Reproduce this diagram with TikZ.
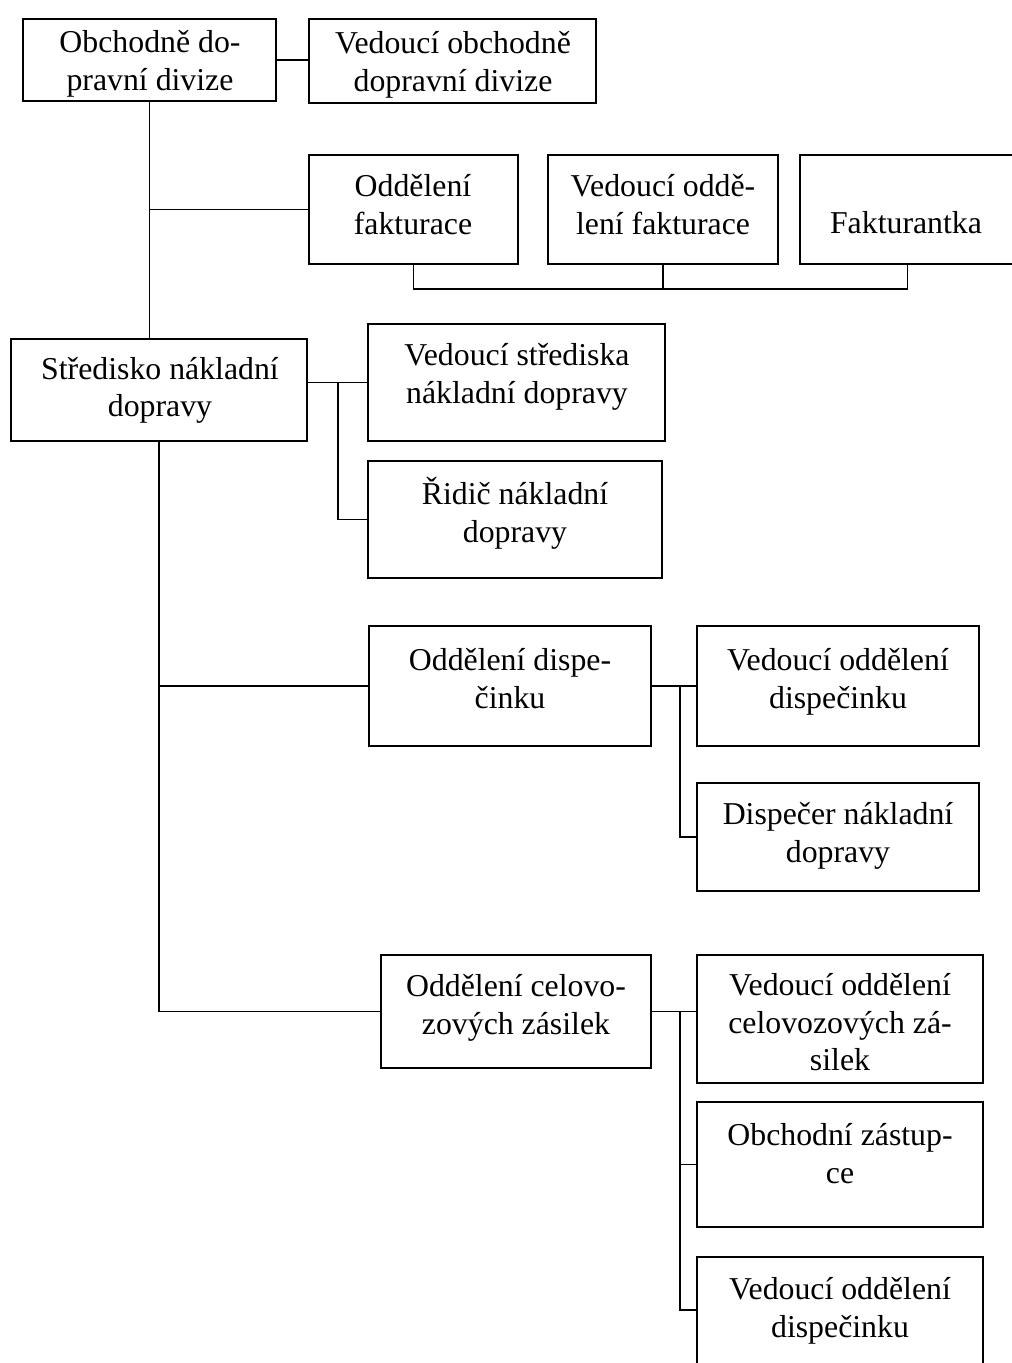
\documentclass[tikz,border=0pt]{standalone}
\usepackage{fontspec}
\setmainfont{Liberation Serif}
\begin{document}
\begin{tikzpicture}[x=1pt,y=-1pt,line width=1.8pt,
  box/.style={draw,rectangle,inner sep=0pt,line width=1.8pt},
  lbl/.style={align=center,inner sep=0pt,anchor=north,font=\fontsize{31.8}{37.5}\selectfont},
  conn/.style={line width=1.8pt}]
\useasboundingbox (0,0) rectangle (1012,1363);
% boxes
\node[box,minimum width=253pt,minimum height=82pt] (b1) at (149.5,60) {};
\node[box,minimum width=287pt,minimum height=84pt] (b2) at (452.5,61) {};
\node[box,minimum width=209pt,minimum height=109pt] (b3) at (413.5,209.5) {};
\node[box,minimum width=230pt,minimum height=109pt] (b4) at (663,209.5) {};
\node[box,minimum width=215pt,minimum height=109pt] (b5) at (907.5,209.5) {};
\node[box,minimum width=296pt,minimum height=102pt] (b6) at (159,390) {};
\node[box,minimum width=297pt,minimum height=117pt] (b7) at (516.5,382.5) {};
\node[box,minimum width=294pt,minimum height=117pt] (b8) at (515,519.5) {};
\node[box,minimum width=282pt,minimum height=120pt] (b9) at (510,686) {};
\node[box,minimum width=282pt,minimum height=120pt] (b10) at (838,686) {};
\node[box,minimum width=282pt,minimum height=108pt] (b11) at (838,837) {};
\node[box,minimum width=270pt,minimum height=113pt] (b12) at (516,1011.5) {};
\node[box,minimum width=286pt,minimum height=128pt] (b13) at (840,1019) {};
\node[box,minimum width=286pt,minimum height=125pt] (b14) at (840,1164.5) {};
\node[box,minimum width=286pt,minimum height=118pt] (b15) at (840,1316) {};
% texts
\node[lbl] (t1) at (150,25.5) {\strut Obchodně do-\\\strut pravní divize};
\node[lbl] (t2) at (453,26.75) {\strut Vedoucí obchodně\\\strut dopravní divize};
\node[lbl] (t3) at (413,169.75) {\strut Oddělení\\\strut fakturace};
\node[lbl] (t4) at (663,169.75) {\strut Vedoucí oddě-\\\strut lení fakturace};
\node[lbl] (t5) at (906,206.5) {\strut Fakturantka};
\node[lbl] (t6) at (160,352) {\strut Středisko nákladní\\\strut dopravy};
\node[lbl] (t7) at (517,338.75) {\strut Vedoucí střediska\\\strut nákladní dopravy};
\node[lbl] (t8) at (515,476.75) {\strut Řidič nákladní\\\strut dopravy};
\node[lbl] (t9) at (510,643.75) {\strut Oddělení dispe-\\\strut činku};
\node[lbl] (t10) at (838,643.75) {\strut Vedoucí oddělení\\\strut dispečinku};
\node[lbl] (t11) at (838,797.75) {\strut Dispečer nákladní\\\strut dopravy};
\node[lbl] (t12) at (516,969.75) {\strut Oddělení celovo-\\\strut zových zásilek};
\node[lbl] (t13) at (840,968.75) {\strut Vedoucí oddělení\\\strut celovozových zá-\\\strut silek};
\node[lbl] (t14) at (840,1118.75) {\strut Obchodní zástup-\\\strut ce};
\node[lbl] (t15) at (840,1272.75) {\strut Vedoucí oddělení\\\strut dispečinku};
% connectors
\draw[conn] (b1.east) -- (b1.east -| b2.west);
\draw[conn] (b1.south) -- (b1.south |- b6.north);
\draw[conn] (b1.south |- b3.west) -- (b3.west);
\draw[conn] (b3.south) -- ++(0,24) -| (b5.south);
\draw[conn] (b4.south) -- ++(0,24);
\draw[conn] (b6.east |- b7.west) -- (b7.west);
\coordinate (j1) at (338,382.5);
\draw[conn] (j1) |- (b8.west);
\draw[conn] (b6.south) -- (b6.south |- b12.west);
\draw[conn] (b6.south |- b9.west) -- (b9.west);
\draw[conn] (b6.south |- b12.west) -- (b12.west);
\draw[conn] (b9.east) -- (b10.west);
\coordinate (j2) at (680,686);
\draw[conn] (j2) |- (b11.west);
\draw[conn] (b12.east) -- (b12.east -| b13.west);
\coordinate (j3) at (680,1011.5);
\draw[conn] (j3) |- (b14.west);
\draw[conn] (j3) |- ([yshift=6pt]b15.west);
\end{tikzpicture}
\end{document}
